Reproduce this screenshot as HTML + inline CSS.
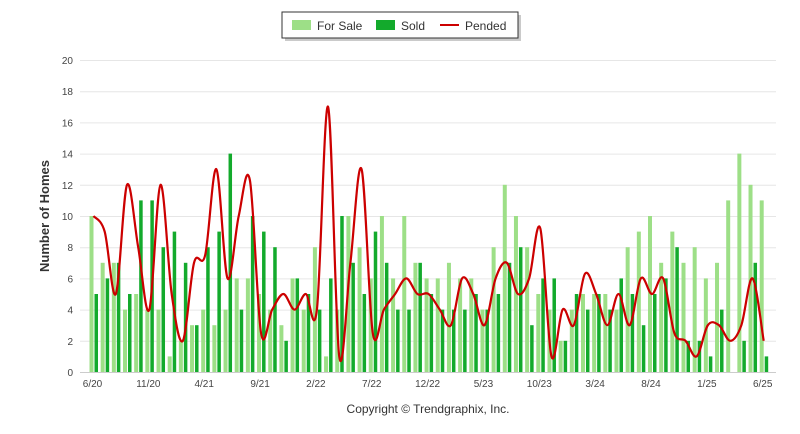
<!DOCTYPE html>
<html><head><meta charset="utf-8"><style>
body{margin:0;background:#fff;width:800px;height:434px;overflow:hidden;font-family:"Liberation Sans",sans-serif}
svg{display:block}
</style></head><body>
<svg id="chart" width="800" height="434">
<g id="grid"></g>
<g id="yticks"></g>
<g id="xticks"></g>
<g id="bars"></g>
<path id="pline" fill="none" stroke="#cc0000" stroke-width="2.2"/>
<text transform="translate(49,216) rotate(-90)" text-anchor="middle" font-size="13" font-weight="bold" fill="#333">Number of Homes</text>
<g>
<rect x="285" y="15" width="236" height="26" fill="#666" opacity="0.35"/>
<rect x="282" y="12" width="236" height="26" fill="#fff" stroke="#333" stroke-width="1"/>
<g><rect x="292" y="20" width="19" height="10" fill="#9ddf87"/><text x="317" y="30" font-size="12" fill="#333">For Sale</text></g>
<g><rect x="376" y="20" width="19" height="10" fill="#13aa2c"/><text x="401" y="30" font-size="12" fill="#333">Sold</text></g>
<g><line x1="440" y1="25" x2="459" y2="25" stroke="#cc0000" stroke-width="2"/><text x="465" y="30" font-size="12" fill="#333">Pended</text></g>
</g>
<text x="428" y="413" text-anchor="middle" font-size="12" fill="#333">Copyright © Trendgraphix, Inc.</text>
</svg>
<script>
const forSale=[10,7,7,4,5,4,4,1,2,3,4,3,4,6,6,5,4,3,6,4,8,1,4,10,8,6,10,6,10,7,6,6,7,6,6,4,8,12,10,8,5,4,2,4,5,5,5,4,8,9,10,7,9,7,8,6,7,11,14,12,11];
const sold=[5,6,7,5,11,11,8,9,7,3,8,9,14,4,10,9,8,2,6,5,4,6,10,7,5,9,7,4,4,7,5,4,4,4,5,4,5,7,8,3,6,6,2,5,4,5,4,6,5,3,5,6,8,2,2,1,4,0,2,7,1];
const pended=[10,9,5,12,8,4,12,5,2,7,7.5,13,6,10,12.3,2.5,4,5,4,5,4,17,1,7,13,2.5,4,5,6,5,5,4,3,6,5,3,6,7,5,6,9.2,1,4,3,6.3,5,3,5,3,6,5,6,2.5,2,1,3,3,2,3,6,2];
const xLabels=["6/20","11/20","4/21","9/21","2/22","7/22","12/22","5/23","10/23","3/24","8/24","1/25","6/25"];
const yTicks=[0,2,4,6,8,10,12,14,16,18,20];
const NS="http://www.w3.org/2000/svg";
const X0=93.5,DX=11.17,Y0=372,YS=15.6;
const xs=i=>X0+i*DX, ys=v=>Y0-v*YS;
function mk(tag,attrs,parent){const e=document.createElementNS(NS,tag);for(const k in attrs)e.setAttribute(k,attrs[k]);parent.appendChild(e);return e;}
const grid=document.getElementById('grid'),yt=document.getElementById('yticks'),xt=document.getElementById('xticks'),bars=document.getElementById('bars');
yTicks.forEach(v=>{
 const l=mk('line',{x1:80,x2:776,y1:ys(v)+0.5,y2:ys(v)+0.5,stroke:v===0?'#ccc':'#e6e6e6','stroke-width':1},grid);
 
 
 const t=mk('text',{x:73,y:ys(v)+4,'text-anchor':'end','font-size':10,fill:'#444'},yt);
 
 
 t.textContent=v;
});
xLabels.forEach((s,k)=>{
 const t=mk('text',{x:xs(k*5)-1,y:387,'text-anchor':'middle','font-size':10,fill:'#444'},xt);
 
 
 t.textContent=s;
});
forSale.forEach((v,i)=>{
 const r=mk('rect',{x:xs(i)-4,y:ys(v),width:4,height:v*YS,fill:'#9ddf87'},bars);
 
 
});
sold.forEach((v,i)=>{
 const r=mk('rect',{x:xs(i)+1,y:ys(v),width:3.5,height:v*YS,fill:'#13aa2c'},bars);
 
 
});
const pts=pended.map((v,i)=>[xs(i),ys(v)]);
let d='M'+pts[0][0]+','+pts[0][1];
for(let i=0;i<pts.length-1;i++){
 const p0=pts[Math.max(0,i-1)],p1=pts[i],p2=pts[i+1],p3=pts[Math.min(pts.length-1,i+2)];
 const c1=[p1[0]+(p2[0]-p0[0])/6,p1[1]+(p2[1]-p0[1])/6],c2=[p2[0]-(p3[0]-p1[0])/6,p2[1]-(p3[1]-p1[1])/6];
 d+=' C'+c1.join(',')+' '+c2.join(',')+' '+p2.join(',');
}
document.getElementById('pline').setAttribute('d',d);
</script>
</body></html>
